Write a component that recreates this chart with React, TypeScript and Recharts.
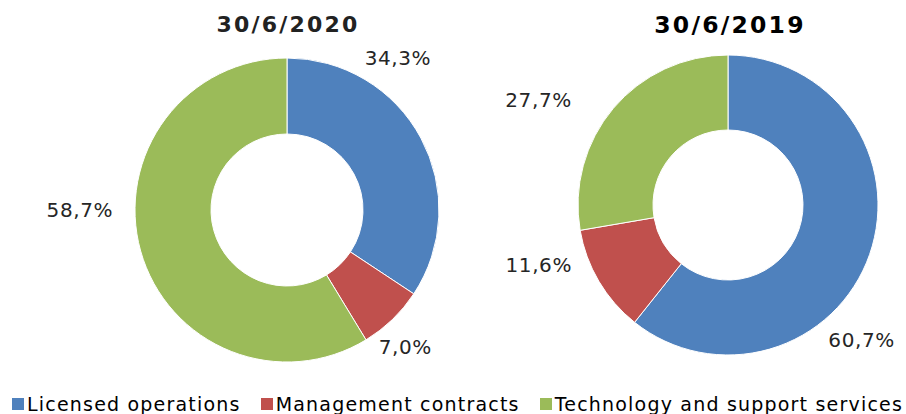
import React from 'react';
import { PieChart, Pie, Cell, Legend } from 'recharts';

const categories = ['Licensed operations', 'Management contracts', 'Technology and support services'];
const colors = ['#4F81BD', '#C0504D', '#9BBB59'];
const values2020 = [34.3, 7.0, 58.7];
const values2019 = [60.7, 11.6, 27.7];
const titles = ['30/6/2020', '30/6/2019'];

const nudge2020 = [[-52, -64], [-10, 4], [-29, -50]];
const nudge2019 = [[-41, 74], [-30, -34], [-48, 14]];

const data2020 = categories.map((name, i) => ({ name, value: values2020[i] }));
const data2019 = categories.map((name, i) => ({ name, value: values2019[i] }));

const RAD = Math.PI / 180;
const fmt = (v: number) => v.toFixed(1).replace('.', ',') + '%';

const makeLabel = (nudges: number[][]) => (props: any) => {
  const { cx, cy, midAngle, index, value } = props;
  const r = 185;
  const x = cx + r * Math.cos(-midAngle * RAD) + nudges[index][0];
  const y = cy + r * Math.sin(-midAngle * RAD) + nudges[index][1];
  return (
    <text x={x} y={y} textAnchor="middle" dominantBaseline="central" fill="#262626"
      style={{ fontFamily: 'DejaVu Sans', fontSize: 20, letterSpacing: 0.6 }}>
      {fmt(value)}
    </text>
  );
};

const LegendContent = () => (
  <div style={{ display: 'flex', alignItems: 'center', fontFamily: 'DejaVu Sans', fontSize: 19, letterSpacing: 1.2, color: '#000', whiteSpace: 'nowrap' }}>
    {categories.map((c, i) => (
      <span key={c} style={{ display: 'inline-flex', alignItems: 'center', marginRight: i < 2 ? 20 : 0 }}>
        <span style={{ display: 'inline-block', width: 12, height: 12, background: colors[i], marginRight: 3 }} />
        {c}
      </span>
    ))}
  </div>
);

export default function App() {
  return (
    <div style={{ position: 'absolute', left: 0, top: 0, width: 906, height: 414, background: '#fff', overflow: 'hidden' }}>
      <PieChart width={906} height={414} margin={{ top: 0, right: 0, bottom: 0, left: 0 }}>
        <Pie data={data2020} dataKey="value" cx={287} cy={210} innerRadius={76} outerRadius={152}
          startAngle={90} endAngle={-270} stroke="#fff" strokeWidth={1} isAnimationActive={false}
          label={makeLabel(nudge2020)} labelLine={false}>
          {data2020.map((d, i) => <Cell key={d.name} fill={colors[i]} />)}
        </Pie>
        <Pie data={data2019} dataKey="value" cx={728} cy={205} innerRadius={75} outerRadius={150}
          startAngle={90} endAngle={-270} stroke="#fff" strokeWidth={1} isAnimationActive={false}
          label={makeLabel(nudge2019)} labelLine={false}>
          {data2019.map((d, i) => <Cell key={d.name} fill={colors[i]} />)}
        </Pie>
        <Legend content={<LegendContent />} wrapperStyle={{ left: 12, top: 393, width: 900 }} />
      </PieChart>
      <div style={{ position: 'absolute', left: 188, width: 200, top: 12, textAlign: 'center', fontFamily: 'DejaVu Sans', fontWeight: 'bold', fontSize: 22, letterSpacing: 2.2, color: '#222' }}>{titles[0]}</div>
      <div style={{ position: 'absolute', left: 630, width: 200, top: 11, textAlign: 'center', fontFamily: 'DejaVu Sans', fontWeight: 'bold', fontSize: 23.5, letterSpacing: 2.2, color: '#000' }}>{titles[1]}</div>
    </div>
  );
}
